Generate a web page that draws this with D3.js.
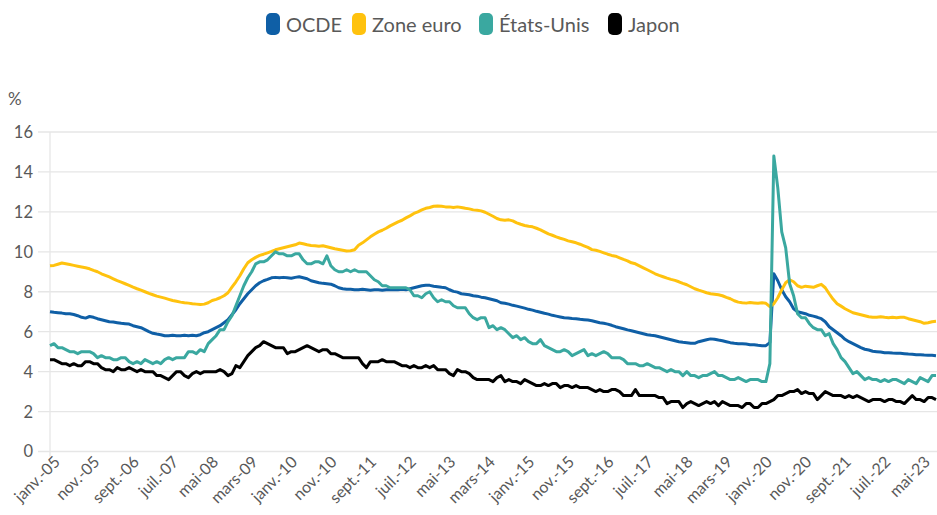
<html>
  <script src="https://d3js.org/d3.v7.min.js"></script>
  <body style="margin:0;background:#fff">
    <script>
      // monthly values, janv. 2005 -> sept. 2023
      let monthNames = ["janv.", "févr.", "mars", "avr.", "mai", "juin", "juil.", "août", "sept.", "oct.", "nov.", "déc."];
      let years = d3.range(2005, 2024);
      let months = [];
      years.forEach(y => monthNames.forEach(m => months.push(m + "-" + String(y).slice(2))));
      months = months.slice(0, 225);

      let tickLabels = ["janv.-05", "nov.-05", "sept.-06", "juil.-07", "mai-08", "mars-09", "janv.-10", "nov.-10",
                        "sept.-11", "juil.-12", "mai-13", "mars-14", "janv.-15", "nov.-15", "sept.-16", "juil.-17",
                        "mai-18", "mars-19", "janv.-20", "nov.-20", "sept.-21", "juil.-22", "mai-23"];
      let yTicks = [0, 2, 4, 6, 8, 10, 12, 14, 16];

      let ocde = [
        7.0, 6.97, 6.95, 6.93, 6.9, 6.9, 6.86, 6.8, 6.72, 6.68, 6.76, 6.72,
        6.65, 6.6, 6.55, 6.5, 6.48, 6.45, 6.42, 6.4, 6.38, 6.3, 6.25, 6.2,
        6.1, 6.0, 5.92, 5.88, 5.85, 5.8, 5.8, 5.82, 5.8, 5.8, 5.82, 5.8,
        5.82, 5.8, 5.85, 5.95, 6.0, 6.1, 6.2, 6.3, 6.45, 6.6, 6.85, 7.1,
        7.4, 7.65, 7.9, 8.1, 8.3, 8.45, 8.55, 8.62, 8.7, 8.72, 8.7, 8.72,
        8.7, 8.68, 8.72, 8.75, 8.7, 8.65, 8.55, 8.5, 8.45, 8.42, 8.4, 8.38,
        8.3, 8.2, 8.15, 8.12, 8.12, 8.1, 8.1, 8.12, 8.1, 8.08, 8.1, 8.1,
        8.08, 8.1, 8.1, 8.1, 8.1, 8.12, 8.1, 8.15, 8.2, 8.25, 8.3, 8.32,
        8.32, 8.28, 8.25, 8.22, 8.2, 8.1, 8.02, 7.98, 7.9, 7.88, 7.85, 7.8,
        7.78, 7.73, 7.7, 7.65, 7.6, 7.55, 7.45, 7.42, 7.38, 7.32, 7.28, 7.23,
        7.18, 7.12, 7.08, 7.02, 6.97, 6.92, 6.88, 6.82, 6.78, 6.74, 6.7, 6.68,
        6.66, 6.65, 6.62, 6.6, 6.58, 6.55, 6.5, 6.45, 6.42, 6.38, 6.32, 6.25,
        6.2, 6.15, 6.09, 6.05, 6.0, 5.95, 5.9, 5.85, 5.82, 5.8, 5.75, 5.7,
        5.65, 5.6, 5.55, 5.5, 5.47, 5.45, 5.42, 5.42, 5.5, 5.55, 5.6, 5.64,
        5.62, 5.58, 5.55, 5.5, 5.45, 5.42, 5.4, 5.4, 5.38, 5.35, 5.35, 5.32,
        5.3, 5.3, 5.45, 8.9, 8.55, 8.1, 7.75, 7.5, 7.15, 7.0, 6.95, 6.9,
        6.82, 6.78, 6.72, 6.65, 6.5, 6.25, 6.1, 5.95, 5.8, 5.62, 5.5, 5.4,
        5.3, 5.2, 5.12, 5.08, 5.02, 5.0, 4.98, 4.95, 4.95, 4.93, 4.92, 4.92,
        4.9, 4.88, 4.87, 4.85, 4.85, 4.83, 4.82, 4.82, 4.8
      ];
      let zoneEuro = [
        9.3, 9.32, 9.38, 9.44, 9.4, 9.36, 9.32, 9.28, 9.24, 9.2, 9.15, 9.07,
        9.0, 8.9, 8.82, 8.74, 8.65, 8.56, 8.48, 8.4, 8.32, 8.23, 8.15, 8.08,
        8.0, 7.92, 7.85, 7.78, 7.73, 7.68, 7.62, 7.56, 7.52, 7.48, 7.45, 7.43,
        7.4, 7.38, 7.36, 7.38, 7.45, 7.56, 7.62, 7.7, 7.8, 7.95, 8.23, 8.5,
        8.8, 9.15, 9.45, 9.6, 9.72, 9.82, 9.88, 9.95, 10.02, 10.1, 10.15, 10.2,
        10.25, 10.3, 10.35, 10.44, 10.4, 10.35, 10.32, 10.3, 10.28, 10.3, 10.25, 10.2,
        10.15, 10.12, 10.08, 10.04, 10.05, 10.1, 10.33, 10.45, 10.6, 10.75, 10.88, 11.0,
        11.08, 11.18, 11.3, 11.4, 11.5, 11.58, 11.7, 11.8, 11.92, 12.0, 12.1, 12.18,
        12.22, 12.28, 12.3, 12.28, 12.25, 12.25, 12.22, 12.25, 12.22, 12.18, 12.15, 12.1,
        12.08, 12.05, 11.98, 11.88, 11.78, 11.67, 11.6, 11.58, 11.6, 11.55, 11.45, 11.38,
        11.32, 11.28, 11.25, 11.18, 11.1, 11.0, 10.9, 10.83, 10.75, 10.68, 10.62, 10.55,
        10.5, 10.45, 10.38, 10.3, 10.22, 10.11, 10.08, 10.02, 9.95, 9.88, 9.82, 9.78,
        9.7, 9.62, 9.55, 9.45, 9.4, 9.3, 9.2, 9.1, 9.0, 8.9, 8.82, 8.75,
        8.68, 8.62, 8.57, 8.5, 8.42, 8.35, 8.25, 8.15, 8.08, 8.02, 7.95, 7.9,
        7.88, 7.85, 7.8, 7.72, 7.65, 7.55, 7.48, 7.45, 7.43, 7.46, 7.44, 7.42,
        7.45, 7.42, 7.25, 7.4, 7.7, 8.1, 8.45, 8.6, 8.5, 8.3, 8.22, 8.28,
        8.25, 8.22, 8.3, 8.37, 8.2, 7.9, 7.62, 7.4, 7.28, 7.15, 7.05, 6.95,
        6.9, 6.85, 6.8, 6.75, 6.72, 6.72, 6.75, 6.72, 6.7, 6.72, 6.7, 6.72,
        6.72, 6.65, 6.6, 6.55, 6.5, 6.42, 6.45, 6.5, 6.52
      ];
      let etatsUnis = [
        5.3, 5.4, 5.2, 5.2, 5.1, 5.0, 5.0, 4.9, 5.0, 5.0, 5.0, 4.9,
        4.7, 4.8, 4.7, 4.7, 4.6, 4.6, 4.7, 4.7, 4.5, 4.4, 4.5, 4.4,
        4.6, 4.5, 4.4, 4.5, 4.4, 4.6, 4.7, 4.6, 4.7, 4.7, 4.7, 5.0,
        5.0, 4.9, 5.1, 5.0, 5.4, 5.6, 5.8, 6.1, 6.1, 6.5, 6.8, 7.3,
        7.8, 8.3, 8.7, 9.0, 9.4, 9.5, 9.5, 9.6, 9.8, 10.0, 9.9, 9.9,
        9.8, 9.8, 9.9, 9.9, 9.6, 9.4, 9.4, 9.5, 9.5, 9.4, 9.8, 9.3,
        9.1, 9.0, 9.0, 9.1, 9.0, 9.1, 9.0, 9.0, 9.0, 8.8, 8.6, 8.5,
        8.3, 8.3, 8.2, 8.2, 8.2, 8.2, 8.2, 8.1, 7.8, 7.8, 7.7, 7.9,
        8.0, 7.7, 7.5, 7.6, 7.5, 7.5, 7.3, 7.2, 7.2, 7.2, 6.9, 6.7,
        6.6, 6.7, 6.7, 6.2, 6.3, 6.1, 6.2, 6.1, 5.9, 5.7, 5.8, 5.6,
        5.7, 5.5, 5.4, 5.4, 5.6, 5.3, 5.2, 5.1, 5.0, 5.0, 5.1, 5.0,
        4.8, 4.9, 5.0, 5.1, 4.8, 4.9, 4.8, 4.9, 5.0, 4.9, 4.7, 4.7,
        4.7, 4.6, 4.4, 4.4, 4.4, 4.3, 4.3, 4.4, 4.3, 4.2, 4.2, 4.1,
        4.0, 4.1, 4.0, 4.0, 3.8, 4.0, 3.8, 3.8, 3.7, 3.8, 3.8, 3.9,
        4.0, 3.8, 3.8, 3.7, 3.6, 3.6, 3.7, 3.6, 3.5, 3.6, 3.6, 3.6,
        3.5, 3.5, 4.4, 14.8, 13.2, 11.0, 10.2, 8.4, 7.8, 6.9, 6.7, 6.7,
        6.4, 6.2, 6.1, 6.1, 5.8, 5.9, 5.4, 5.1, 4.7, 4.5, 4.2, 3.9,
        4.0, 3.8, 3.6, 3.7, 3.6, 3.6, 3.5, 3.6, 3.5, 3.6, 3.6, 3.5,
        3.4, 3.6, 3.5, 3.4, 3.7, 3.6, 3.5, 3.8, 3.8
      ];
      let japon = [
        4.6, 4.6, 4.5, 4.4, 4.4, 4.3, 4.4, 4.3, 4.3, 4.5, 4.5, 4.4,
        4.4, 4.2, 4.1, 4.1, 4.0, 4.2, 4.1, 4.1, 4.2, 4.1, 4.0, 4.1,
        4.0, 4.0, 4.0, 3.8, 3.8, 3.7, 3.6, 3.8, 4.0, 4.0, 3.8, 3.7,
        3.9, 4.0, 3.9, 4.0, 4.0, 4.0, 4.0, 4.1, 4.0, 3.8, 3.9, 4.3,
        4.2, 4.5, 4.8, 5.0, 5.2, 5.3, 5.5, 5.4, 5.3, 5.2, 5.2, 5.2,
        4.9, 5.0, 5.0, 5.1, 5.2, 5.3, 5.2, 5.1, 5.0, 5.1, 5.1, 4.9,
        4.9, 4.8, 4.7, 4.7, 4.7, 4.7, 4.7, 4.4, 4.2, 4.5, 4.5, 4.5,
        4.6, 4.5, 4.5, 4.5, 4.4, 4.3, 4.3, 4.2, 4.3, 4.2, 4.2, 4.3,
        4.2, 4.3, 4.1, 4.1, 4.1, 3.9, 3.8, 4.1, 4.0, 4.0, 3.9, 3.7,
        3.6, 3.6, 3.6, 3.6, 3.5, 3.7, 3.8, 3.5, 3.6, 3.5, 3.5, 3.4,
        3.6, 3.5, 3.4, 3.3, 3.3, 3.4, 3.3, 3.4, 3.4, 3.2, 3.3, 3.3,
        3.2, 3.3, 3.2, 3.2, 3.2, 3.1, 3.0, 3.1, 3.0, 3.0, 3.1, 3.1,
        3.0, 2.8, 2.8, 2.8, 3.1, 2.8, 2.8, 2.8, 2.8, 2.8, 2.7, 2.7,
        2.4, 2.5, 2.5, 2.5, 2.2, 2.4, 2.5, 2.4, 2.3, 2.4, 2.5, 2.4,
        2.5, 2.3, 2.5, 2.4, 2.3, 2.3, 2.3, 2.2, 2.4, 2.4, 2.2, 2.2,
        2.4, 2.4, 2.5, 2.6, 2.8, 2.8, 2.9, 3.0, 3.0, 3.1, 2.9, 3.0,
        2.9, 2.9, 2.6, 2.8, 3.0, 2.9, 2.8, 2.8, 2.8, 2.7, 2.8, 2.7,
        2.8, 2.7, 2.6, 2.5, 2.6, 2.6, 2.6, 2.5, 2.6, 2.6, 2.5, 2.5,
        2.4, 2.6, 2.8, 2.6, 2.6, 2.5, 2.7, 2.7, 2.6
      ];

      let series = [
        {name: "OCDE", color: "#0f5fa6", values: ocde},
        {name: "Zone euro", color: "#ffc20e", values: zoneEuro},
        {name: "États-Unis", color: "#3aa8a0", values: etatsUnis},
        {name: "Japon", color: "#000000", values: japon}
      ];

      let width = 937;
      let height = 515;
      let font = "Lato, 'Open Sans', sans-serif";
      let svg = d3.select("body").append("svg")
                  .attr("width", width)
                  .attr("height", height)
                  .style("font-family", font);

      let x = d3.scalePoint().domain(months).range([50, 936]);
      let y = d3.scaleLinear().domain([0, 16]).range([451.5, 132]);

      // gridlines
      yTicks.forEach(t =>
        svg.append("line")
           .attr("x1", 38).attr("x2", width)
           .attr("y1", y(t)).attr("y2", y(t))
           .attr("stroke", "#e6e6e6")
           .attr("stroke-width", 1.3)
      );
      svg.append("line")
         .attr("x1", 50).attr("x2", 50)
         .attr("y1", y(16)).attr("y2", y(0) + 5)
         .attr("stroke", "#e6e6e6")
         .attr("stroke-width", 1.3);

      // y labels
      yTicks.forEach(t =>
        svg.append("text")
           .attr("x", 33).attr("y", y(t))
           .attr("dy", "0.36em")
           .attr("text-anchor", "end")
           .attr("font-size", 16.5)
           .attr("fill", "#595959")
           .text(t)
      );
      svg.append("text")
         .attr("x", 8).attr("y", 105)
         .attr("font-size", 17)
         .attr("fill", "#595959")
         .text("%");

      // x labels
      tickLabels.forEach(lbl => {
        let px = x(lbl) + 11, py = 463;
        svg.append("text")
           .attr("transform", `translate(${px},${py}) rotate(-45)`)
           .attr("text-anchor", "end")
           .attr("font-size", 16)
           .attr("fill", "#595959")
           .text(lbl);
      });

      // lines
      let line = d3.line()
                   .x((d, i) => x(months[i]))
                   .y(d => y(d));
      series.forEach(s =>
        svg.append("path")
           .attr("d", line(s.values))
           .attr("fill", "none")
           .attr("stroke", s.color)
           .attr("stroke-width", 3)
           .attr("stroke-linejoin", "round")
      );

      // legend
      let legendX = [266, 352, 479, 608];
      series.forEach((s, i) => {
        svg.append("rect")
           .attr("x", legendX[i]).attr("y", 13)
           .attr("width", 14).attr("height", 22)
           .attr("rx", 5)
           .attr("fill", s.color);
        svg.append("text")
           .attr("x", legendX[i] + 20).attr("y", 32)
           .attr("font-size", 20)
           .attr("fill", "#595959")
           .text(s.name);
      });
    </script>
  </body>
</html>
